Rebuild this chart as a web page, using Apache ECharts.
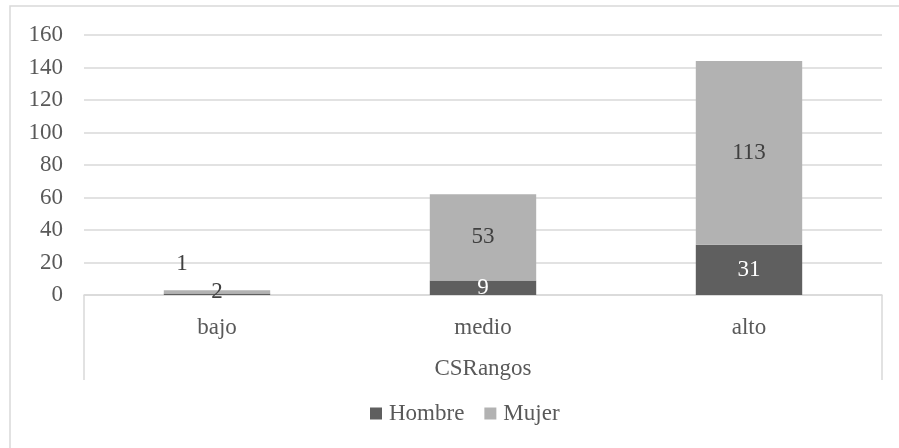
<!DOCTYPE html>
<html>
<head>
<meta charset="utf-8">
<script src="https://cdn.jsdelivr.net/npm/echarts@6/dist/echarts.min.js"></script>
<style>html,body{margin:0;padding:0;background:#fff}#c{width:899px;height:448px}</style>
</head>
<body>
<div id="c"></div>
<script>
const categories = ['bajo', 'medio', 'alto'];
const hombre = [1, 9, 31];
const mujer = [2, 53, 113];
const yTicks = { min: 0, max: 160, interval: 20 };
const axisName = 'CSRangos';
const seriesNames = ['Hombre', 'Mujer'];

const FONT = '"Liberation Serif", "Times New Roman", serif';
const FS = 23;
const chart = echarts.init(document.getElementById('c'));

const hombreData = hombre.map((v, i) => i === 0
  ? { value: v, label: { position: 'top', offset: [-35, -13], color: '#404040' } }
  : v);

chart.setOption({
  animation: false,
  graphic: [{
    type: 'rect', shape: { x: 10, y: 6, width: 900, height: 460 },
    style: { fill: 'none', stroke: '#d9d9d9', lineWidth: 1.5 }, silent: true
  }],
  grid: { left: 84, right: 17, top: 35, bottom: 153, containLabel: false },
  legend: {
    bottom: 18, left: 365, itemWidth: 12, itemHeight: 12, itemGap: 20,
    icon: 'rect',
    textStyle: { fontFamily: FONT, fontSize: FS, color: '#595959', padding: [0, 0, 0, 2] },
    data: seriesNames
  },
  xAxis: [{
    type: 'category', data: categories,
    axisLine: { lineStyle: { color: '#d9d9d9', width: 1.5 } },
    axisTick: { show: false },
    axisLabel: { fontFamily: FONT, fontSize: FS, color: '#595959', margin: 21 },
    name: axisName, nameLocation: 'middle', nameGap: 62,
    nameTextStyle: { fontFamily: FONT, fontSize: FS, color: '#595959' }
  }, {
    type: 'value', min: 0, max: 1, interval: 1, position: 'bottom',
    axisLine: { show: false }, splitLine: { show: false },
    axisLabel: { show: false },
    axisTick: { show: true, length: 85, lineStyle: { color: '#d9d9d9', width: 1.5 } }
  }],
  yAxis: {
    type: 'value', min: yTicks.min, max: yTicks.max, interval: yTicks.interval,
    axisLine: { show: false }, axisTick: { show: false },
    axisLabel: { fontFamily: FONT, fontSize: FS, color: '#595959', margin: 21 },
    splitLine: { lineStyle: { color: '#d9d9d9', width: 1.5 } }
  },
  series: [{
    name: seriesNames[0], type: 'bar', stack: 'a', data: hombreData, barWidth: '40%',
    itemStyle: { color: '#5f5f5f' },
    label: { show: true, position: 'inside', color: '#ffffff', fontFamily: FONT, fontSize: FS }
  }, {
    name: seriesNames[1], type: 'bar', stack: 'a', data: mujer, barWidth: '40%',
    itemStyle: { color: '#b2b2b2' },
    label: { show: true, position: 'inside', color: '#404040', fontFamily: FONT, fontSize: FS }
  }]
});
</script>
</body>
</html>
